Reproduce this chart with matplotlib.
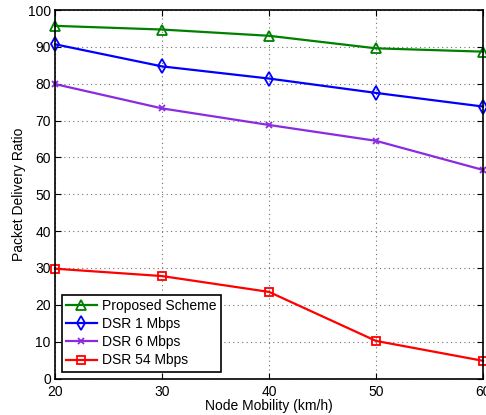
import matplotlib
matplotlib.use('Agg')
import matplotlib.pyplot as plt

plt.rcParams['font.family'] = ['Liberation Sans', 'DejaVu Sans']

mobility = [20, 30, 40, 50, 60]
proposed = [95.7, 94.7, 93.0, 89.6, 88.7]
dsr_1 = [90.7, 84.7, 81.4, 77.5, 73.8]
dsr_6 = [79.9, 73.3, 68.8, 64.5, 56.6]
dsr_54 = [29.8, 27.8, 23.5, 10.2, 4.8]

fig = plt.figure(figsize=(4.86, 4.15), dpi=100)
ax = fig.add_axes([55 / 486, 1 - 378.5 / 415, 428 / 486, 368.5 / 415])

ax.plot(mobility, proposed, color='#008000', marker='^', mfc='none', mew=1.3, ms=7,
        lw=1.6, label='Proposed Scheme', clip_on=False)
ax.plot(mobility, dsr_1, color='#0000ff', marker='d', mfc='none', mew=1.3, ms=7,
        lw=1.6, label='DSR 1 Mbps', clip_on=False)
ax.plot(mobility, dsr_6, color='#8a2be2', marker='x', mew=1.3, ms=5,
        lw=1.6, label='DSR 6 Mbps', clip_on=False)
ax.plot(mobility, dsr_54, color='#ff0000', marker='s', mfc='none', mew=1.3, ms=6,
        lw=1.6, label='DSR 54 Mbps', clip_on=False)

ax.set_xlim(20, 60)
ax.set_ylim(0, 100)
ax.set_xticks(mobility)
ax.set_yticks(range(0, 101, 10))
ax.grid(True, linestyle=(0, (1, 3)), color='#707070', linewidth=0.8)
ax.tick_params(direction='in', labelsize=10, length=4, top=True, right=True, pad=3)
ax.tick_params(axis='x', pad=5)
for s in ax.spines.values():
    s.set_linewidth(1.2)

ax.set_xlabel('Node Mobility (km/h)', fontsize=10, labelpad=0)
ax.set_ylabel('Packet Delivery Ratio', fontsize=10, labelpad=1)

leg = ax.legend(loc='lower left', fontsize=10, fancybox=False, framealpha=1,
                edgecolor='black', borderaxespad=0.5, handlelength=2.2,
                labelspacing=0.3, borderpad=0.3, handletextpad=0.4)
leg.get_frame().set_linewidth(1.2)

fig.savefig('out.png', dpi=100)
